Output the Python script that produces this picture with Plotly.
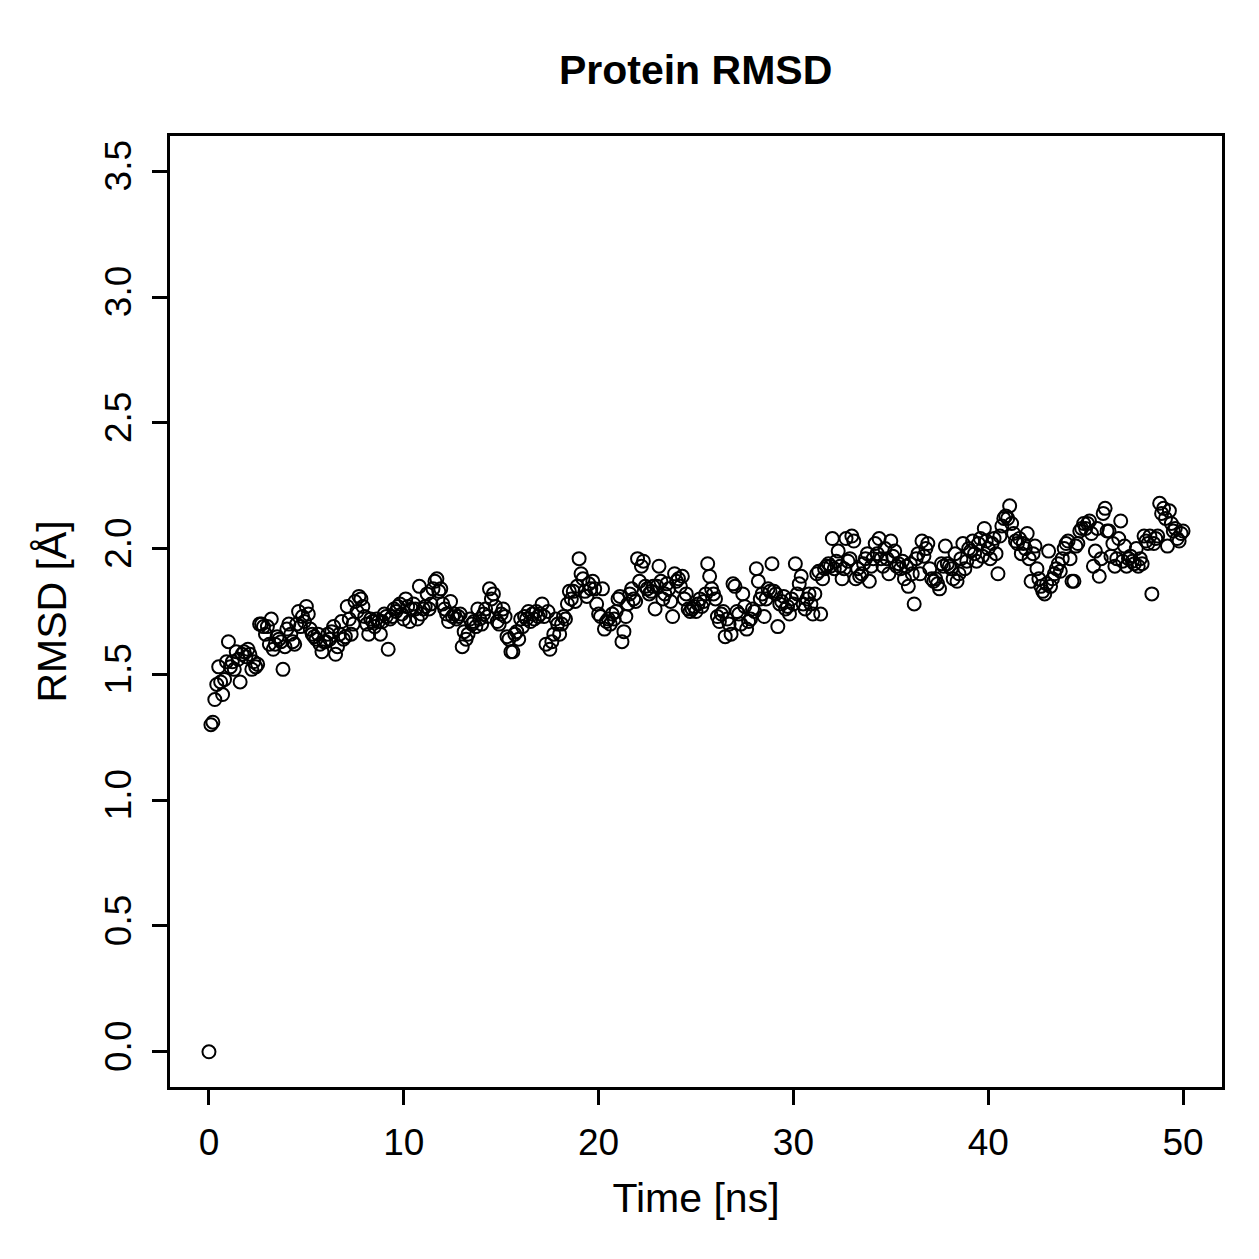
import plotly.graph_objects as go

# RMSD values every 0.1 ns from 0 to 50 ns
rmsd_rows = [
    [0.00, 1.30, 1.31, 1.40, 1.46, 1.53, 1.47, 1.42, 1.48, 1.55],
    [1.63, 1.53, 1.55, 1.52, 1.59, 1.56, 1.47, 1.58, 1.59, 1.57],
    [1.60, 1.58, 1.52, 1.55, 1.53, 1.54, 1.70, 1.70, 1.69, 1.66],
    [1.69, 1.62, 1.72, 1.60, 1.62, 1.65, 1.64, 1.63, 1.52, 1.61],
    [1.68, 1.70, 1.66, 1.63, 1.62, 1.70, 1.75, 1.69, 1.73, 1.71],
    [1.77, 1.74, 1.68, 1.66, 1.65, 1.64, 1.66, 1.62, 1.59, 1.63],
    [1.63, 1.66, 1.64, 1.67, 1.69, 1.58, 1.61, 1.66, 1.71, 1.64],
    [1.65, 1.77, 1.72, 1.66, 1.70, 1.79, 1.75, 1.81, 1.80, 1.77],
    [1.73, 1.70, 1.66, 1.72, 1.71, 1.69, 1.72, 1.71, 1.66, 1.71],
    [1.74, 1.73, 1.60, 1.72, 1.73, 1.76, 1.75, 1.77, 1.78, 1.74],
    [1.72, 1.80, 1.77, 1.71, 1.76, 1.78, 1.76, 1.72, 1.85, 1.74],
    [1.76, 1.77, 1.82, 1.76, 1.78, 1.84, 1.87, 1.88, 1.83, 1.84],
    [1.78, 1.76, 1.74, 1.71, 1.79, 1.73, 1.74, 1.72, 1.73, 1.74],
    [1.61, 1.67, 1.64, 1.66, 1.72, 1.70, 1.71, 1.69, 1.76, 1.72],
    [1.70, 1.74, 1.76, 1.73, 1.84, 1.80, 1.82, 1.77, 1.71, 1.70],
    [1.74, 1.76, 1.73, 1.65, 1.64, 1.59, 1.59, 1.66, 1.67, 1.64],
    [1.72, 1.69, 1.73, 1.72, 1.75, 1.71, 1.74, 1.72, 1.75, 1.73],
    [1.74, 1.78, 1.73, 1.62, 1.75, 1.60, 1.63, 1.66, 1.72, 1.70],
    [1.66, 1.70, 1.73, 1.72, 1.78, 1.83, 1.80, 1.83, 1.79, 1.85],
    [1.96, 1.90, 1.88, 1.83, 1.81, 1.86, 1.84, 1.87, 1.84, 1.78],
    [1.74, 1.73, 1.84, 1.68, 1.71, 1.72, 1.70, 1.74, 1.72, 1.75],
    [1.80, 1.81, 1.63, 1.67, 1.73, 1.78, 1.82, 1.84, 1.80, 1.79],
    [1.96, 1.87, 1.93, 1.95, 1.85, 1.84, 1.82, 1.83, 1.85, 1.76],
    [1.85, 1.93, 1.87, 1.80, 1.82, 1.86, 1.84, 1.79, 1.73, 1.90],
    [1.87, 1.88, 1.85, 1.89, 1.80, 1.82, 1.76, 1.75, 1.76, 1.77],
    [1.75, 1.78, 1.80, 1.77, 1.79, 1.82, 1.94, 1.89, 1.84, 1.82],
    [1.80, 1.73, 1.71, 1.74, 1.75, 1.65, 1.72, 1.70, 1.66, 1.86],
    [1.85, 1.75, 1.74, 1.70, 1.82, 1.77, 1.68, 1.71, 1.72, 1.76],
    [1.75, 1.92, 1.87, 1.80, 1.82, 1.73, 1.80, 1.84, 1.83, 1.94],
    [1.83, 1.82, 1.69, 1.78, 1.79, 1.81, 1.76, 1.77, 1.74, 1.80],
    [1.78, 1.94, 1.82, 1.86, 1.89, 1.78, 1.76, 1.80, 1.82, 1.78],
    [1.74, 1.82, 1.90, 1.91, 1.74, 1.88, 1.92, 1.93, 1.94, 1.93],
    [2.04, 1.92, 1.95, 1.99, 1.93, 1.88, 1.92, 2.04, 1.95, 1.96],
    [2.05, 2.03, 1.88, 1.92, 1.89, 1.90, 1.94, 1.96, 1.98, 1.87],
    [1.93, 1.96, 2.02, 1.98, 2.04, 1.96, 1.93, 2.00, 1.96, 1.90],
    [2.03, 1.97, 1.99, 1.93, 1.94, 1.92, 1.95, 1.88, 1.93, 1.85],
    [1.94, 1.90, 1.78, 1.96, 1.98, 1.90, 2.03, 1.97, 2.00, 2.02],
    [1.92, 1.88, 1.87, 1.88, 1.86, 1.84, 1.94, 1.93, 2.01, 1.94],
    [1.93, 1.92, 1.88, 1.98, 1.87, 1.90, 1.96, 2.02, 1.92, 1.95],
    [2.00, 1.99, 2.03, 1.98, 1.95, 2.02, 2.04, 1.97, 2.08, 2.03],
    [2.00, 1.96, 2.02, 2.04, 1.98, 1.90, 2.05, 2.09, 2.12, 2.13],
    [2.12, 2.17, 2.10, 2.06, 2.03, 2.02, 2.04, 1.98, 2.02, 2.00],
    [2.06, 1.96, 1.87, 1.98, 2.01, 1.92, 1.88, 1.85, 1.83, 1.82],
    [1.86, 1.99, 1.85, 1.88, 1.90, 1.92, 1.94, 1.91, 1.96, 2.00],
    [2.02, 2.03, 1.96, 1.87, 1.87, 2.01, 2.02, 2.07, 2.08, 2.10],
    [2.08, 2.10, 2.11, 2.06, 1.93, 1.99, 2.08, 1.89, 1.96, 2.14],
    [2.16, 2.07, 2.07, 1.97, 2.02, 1.93, 1.96, 2.04, 2.11, 1.95],
    [2.01, 1.93, 1.96, 1.97, 1.95, 1.94, 2.00, 1.93, 1.96, 1.94],
    [2.05, 2.03, 2.02, 2.05, 1.82, 2.02, 2.04, 2.05, 2.18, 2.14],
    [2.16, 2.12, 2.01, 2.15, 2.10, 2.07, 2.08, 2.04, 2.03, 2.06],
    [2.07],
]
rmsd = [v for row in rmsd_rows for v in row]
time_ns = [round(i * 0.1, 1) for i in range(len(rmsd))]

x_ticks = [0, 10, 20, 30, 40, 50]
y_ticks = [0.0, 0.5, 1.0, 1.5, 2.0, 2.5, 3.0, 3.5]

FONT = "Liberation Sans, Arial, Helvetica, sans-serif"

fig = go.Figure(go.Scatter(
    x=time_ns, y=rmsd, mode="markers",
    marker=dict(symbol="circle-open", size=13, color="black",
                line=dict(color="black", width=2)),
    showlegend=False,
))

axis_common = dict(
    showgrid=False, zeroline=False,
    showline=True, linecolor="black", linewidth=2.5, mirror=True,
    ticks="outside", ticklen=15, tickwidth=2.5, tickcolor="black",
    tickfont=dict(family=FONT, size=37, color="black"),
)

fig.update_layout(
    width=1259, height=1259,
    margin=dict(l=170, r=37, t=136, b=172),
    paper_bgcolor="white", plot_bgcolor="white",
    title=dict(text="<b>Protein RMSD</b>", x=0.5525, xanchor="center",
               y=1 - 70 / 1259, yanchor="middle",
               font=dict(family=FONT, size=41, color="black")),
    xaxis=dict(range=[-2, 52], tickvals=x_ticks, ticktext=[str(t) for t in x_ticks],
               title=dict(text="Time [ns]", standoff=22,
                          font=dict(family=FONT, size=41, color="black")),
               ticklabelstandoff=6, **axis_common),
    yaxis=dict(range=[-0.14, 3.64], tickvals=y_ticks,
               ticktext=[f"{t:.1f}" for t in y_ticks], tickangle=-90,
               title=dict(text="RMSD [Å]", standoff=20,
                          font=dict(family=FONT, size=41, color="black")),
               ticklabelstandoff=6, **axis_common),
)

fig.write_html("out.html")
